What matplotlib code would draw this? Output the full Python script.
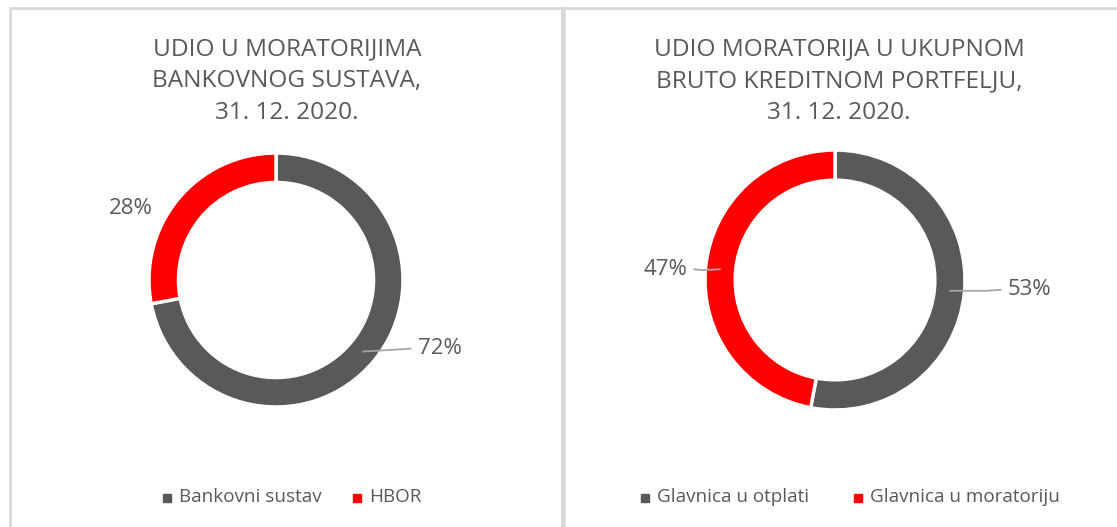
import matplotlib
matplotlib.use("Agg")
import matplotlib.pyplot as plt
from matplotlib.patches import Rectangle
import numpy as np

# ---- data ----
titles = ["UDIO U MORATORIJIMA\nBANKOVNOG SUSTAVA,\n31. 12. 2020.",
          "UDIO MORATORIJA U UKUPNOM\nBRUTO KREDITNOM PORTFELJU,\n31. 12. 2020."]
left_labels = ["Bankovni sustav", "HBOR"]
left_values = [72, 28]
right_labels = ["Glavnica u otplati", "Glavnica u moratoriju"]
right_values = [53, 47]
colors = ["#595959", "#FF0000"]

W, H = 1117, 527
fig = plt.figure(figsize=(W / 100, H / 100), dpi=100)
ax = fig.add_axes([0, 0, 1, 1])
ax.set_xlim(0, W)
ax.set_ylim(0, H)
ax.set_aspect("equal")
ax.axis("off")

FONT = ["Open Sans", "DejaVu Sans"]
TXT = "#595959"

def Y(y):
    return H - y

# panel frames
for x0, x1 in [(10, 562), (564, 1125)]:
    ax.add_patch(Rectangle((x0, Y(540)), x1 - x0, 532, fill=False,
                           edgecolor="#d9d9d9", linewidth=2, zorder=1))

panels = [
    dict(title=titles[0], labels=left_labels, values=left_values,
         cx=276, cy=280, r=127, tx=287, ty=81,
         lab_off=[(77, -3), (-59, 0)], leader=[True, False],
         leg_x=[163, 353]),
    dict(title=titles[1], labels=right_labels, values=right_values,
         cx=835, cy=280, r=130, tx=839, ty=81,
         lab_off=[(80, -1), (-55, 0)], leader=[True, True],
         leg_x=[641, 854]),
]

for p in panels:
    cx, cy, r = p["cx"], Y(p["cy"]), p["r"]
    width = r * 0.232
    wedges, _ = ax.pie(p["values"], colors=colors, startangle=90, counterclock=False,
                       center=(cx, cy), radius=r, frame=True,
                       wedgeprops=dict(width=width, edgecolor="white", linewidth=2.5))
    ax.text(p["tx"], Y(p["ty"]), p["title"], ha="center", va="center",
            fontsize=17.6, color=TXT, family=FONT, linespacing=1.43)
    total = sum(p["values"])
    start = 90.0
    for i, v in enumerate(p["values"]):
        ang = np.deg2rad(start - 360 * v / total / 2)
        start -= 360 * v / total
        rm = r - width / 2
        px, py = cx + rm * np.cos(ang), cy + rm * np.sin(ang)
        dx, dy = p["lab_off"][i]
        lx, ly = px + dx, py - dy
        ax.text(lx, ly, f"{v}%", ha="center", va="center", fontsize=16,
                color=TXT, family=FONT, zorder=5)
        if p["leader"][i]:
            sgn = 1 if dx > 0 else -1
            ex = lx - sgn * 28
            ax.plot([px, px + (ex - px) * 0.7, ex], [py, ly - 1, ly], color="#a6a6a6",
                    linewidth=1.3, zorder=4, solid_capstyle="butt")
    # legend
    for i, lab in enumerate(p["labels"]):
        mx = p["leg_x"][i]
        ax.add_patch(Rectangle((mx, Y(502)), 8, 8, color=colors[i], zorder=5))
        ax.text(mx + 16, Y(497), lab, ha="left", va="center", fontsize=13.6,
                color=TXT, family=FONT)

ax.set_xlim(0, W)
ax.set_ylim(0, H)
ax.axis("off")
fig.savefig("out.png", dpi=100, facecolor="white")
